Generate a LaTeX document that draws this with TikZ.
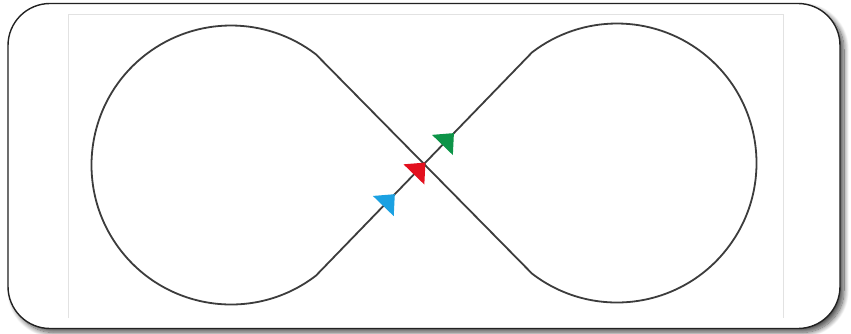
\documentclass[tikz,border=0pt]{standalone}
\usetikzlibrary{shadows.blur}
\definecolor{trackgray}{HTML}{3C3C3C}
\definecolor{framegray}{HTML}{222222}
\definecolor{innergray}{HTML}{E2E2E2}
\definecolor{arrblue}{HTML}{1BA1E2}
\definecolor{arrred}{HTML}{E3101E}
\definecolor{arrgreen}{HTML}{0D9448}
\begin{document}
\begin{tikzpicture}[x=1pt,y=1pt,
  track/.style={draw=trackgray, line width=1.8pt, line join=round},
  innerline/.style={draw=innergray, line width=1pt},
  frame/.style={draw=framegray, line width=1.4pt, fill=white, rounded corners=42pt,
    blur shadow={shadow xshift=4pt, shadow yshift=-4pt, shadow blur radius=5pt, shadow blur steps=12, shadow opacity=70}},
  arrowtri/.style={draw=none}
]
\useasboundingbox (0,0) rectangle (851,-334);
\path[frame] (8,-3.5) rectangle (840,-328.5);
\draw[innerline] (68,-318) -- (68,-14.5) -- (783,-14.5) -- (783,-318);
% figure-eight track
\coordinate (L) at (231,-165);
\coordinate (R) at (617,-163);
\coordinate (M) at (424,-164);
\coordinate (T1) at (315.92,-54.33);
\coordinate (T2) at (315.92,-275.67);
\coordinate (T3) at (532.08,-273.67);
\coordinate (T4) at (532.08,-52.33);
\draw[track] (T1) -- (T3) arc[start angle=-127.5,end angle=127.5,radius=139.5]
  -- (T2) arc[start angle=-52.5,end angle=-307.5,radius=139.5] -- cycle;
% arrowheads
\coordinate (tipB) at (394.79,-194.18);
\coordinate (tipR) at (425.39,-162.56);
\coordinate (tipG) at (453.91,-133.10);
\fill[arrowtri, arrblue, shift={(tipB)}, rotate=45.94] (0,0) -- (-16.5,14.5) -- (-16.5,-14.5) -- cycle;
\fill[arrowtri, arrred, shift={(tipR)}, rotate=45.94] (0,0) -- (-16.5,14.5) -- (-16.5,-14.5) -- cycle;
\fill[arrowtri, arrgreen, shift={(tipG)}, rotate=45.94] (0,0) -- (-16.5,14.5) -- (-16.5,-14.5) -- cycle;
\end{tikzpicture}
\end{document}
